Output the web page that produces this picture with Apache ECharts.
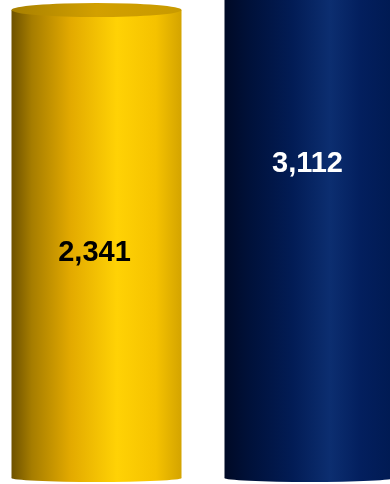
<!DOCTYPE html>
<html>
<head>
<meta charset="utf-8">
<script src="https://cdn.jsdelivr.net/npm/echarts@6/dist/echarts.min.js"></script>
<style>html,body{margin:0;padding:0;background:#fff;}#c{width:390px;height:484px;}</style>
</head>
<body>
<div id="c"></div>
<script>
var categories = ['A', 'B'];
var values = [2341, 3112];
var labels = ['2,341', '3,112'];

function grad(stops) {
  return new echarts.graphic.LinearGradient(0, 0, 1, 0, stops.map(function (s) { return { offset: s[0], color: s[1] }; }));
}
var bodyColors = [
  grad([[0, '#6e5200'], [0.12, '#a67d00'], [0.35, '#e3aa00'], [0.62, '#ffd205'], [0.85, '#f5c200'], [1, '#d4a400']]),
  grad([[0, '#000a26'], [0.15, '#00113a'], [0.4, '#021c55'], [0.62, '#0c2e70'], [0.8, '#031f5e'], [1, '#001a52']])
];
var topColors = [
  grad([[0, '#a88000'], [0.5, '#d2a000'], [1, '#c89a00']]),
  grad([[0, '#001040'], [1, '#00205e']])
];
var labelColors = ['#000000', '#ffffff'];
var labelOffsets = [[-2, 9], [-2, -3]];

var chart = echarts.init(document.getElementById('c'), null, { renderer: 'canvas' });
chart.setOption({
  animation: false,
  backgroundColor: '#ffffff',
  grid: { left: -10, width: 426, top: 10, bottom: 6, containLabel: false, outerBoundsMode: 'none' },
  xAxis: { type: 'category', data: categories, show: false },
  yAxis: { type: 'value', min: 0, max: 2341, show: false },
  series: [
    {
      type: 'pictorialBar',
      symbol: 'circle',
      symbolSize: [170, 8],
      symbolPosition: 'start',
      symbolOffset: [0, '50%'],
      z: 1,
      data: values.map(function (v, i) { return { value: v, itemStyle: { color: bodyColors[i] } }; })
    },
    {
      type: 'bar',
      barWidth: 170,
      clip: false,
      z: 2,
      data: values.map(function (v, i) {
        return {
          value: v,
          itemStyle: { color: bodyColors[i] },
          label: {
            show: true,
            position: 'inside',
            formatter: labels[i],
            color: labelColors[i],
            fontFamily: 'Liberation Sans',
            fontWeight: 'bold',
            fontSize: 29,
            offset: labelOffsets[i]
          }
        };
      })
    },
    {
      type: 'pictorialBar',
      symbol: 'circle',
      symbolSize: [170, 14],
      symbolPosition: 'end',
      symbolOffset: [0, '-50%'],
      clip: false,
      z: 3,
      data: values.map(function (v, i) { return { value: v, itemStyle: { color: topColors[i] } }; })
    }
  ]
});
</script>
</body>
</html>
